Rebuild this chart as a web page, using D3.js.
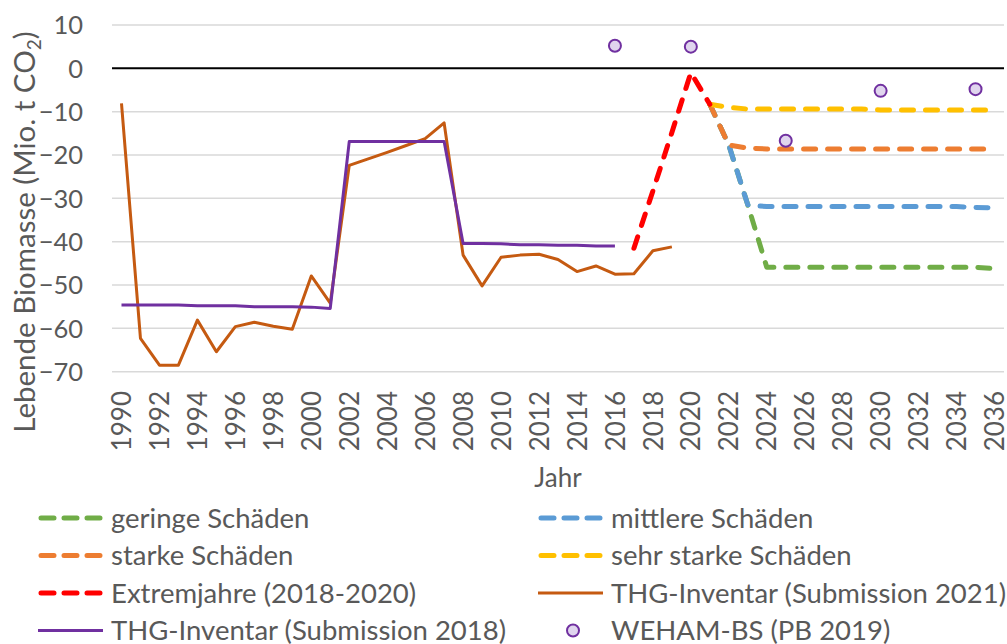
<!DOCTYPE html>
<html>
<head>
<meta charset="utf-8">
<script src="https://d3js.org/d3.v7.min.js"></script>
<style>
  body { margin: 0; background: #fff; }
  text { font-family: Lato, "Open Sans", sans-serif; fill: #595959; }
</style>
</head>
<body>
<div id="chart"></div>
<script>
  var w = 1007,
      h = 644;

  // categories
  var years = d3.range(1990, 2037);
  var yTicks = [10, 0, -10, -20, -30, -40, -50, -60, -70];
  var xTicks = d3.range(1990, 2037, 2);

  // THG-Inventar (Submission 2021), 1990-2019
  var thg2021 = [-8.1, -62.3, -68.5, -68.5, -58.1, -65.4, -59.6, -58.6, -59.5, -60.2,
                 -47.9, -54.2, -22.4, -20.9, -19.4, -17.8, -16.2, -12.6, -43.1, -50.2,
                 -43.6, -43.1, -42.9, -44.1, -46.9, -45.6, -47.5, -47.4, -42.1, -41.2];
  // THG-Inventar (Submission 2018), 1990-2016
  var thg2018 = [-54.6, -54.6, -54.6, -54.6, -54.8, -54.8, -54.8, -55.0, -55.0, -55.0,
                 -55.1, -55.4, -16.9, -16.9, -16.9, -16.9, -16.9, -16.9, -40.4, -40.4,
                 -40.5, -40.7, -40.7, -40.8, -40.8, -41.0, -41.0];
  // Extremjahre, 2017-2021
  var extrem = [-41.5, -28.3, -14.8, -1.0, -8.3];
  // scenarios, 2021-2036
  var geringe    = [-8.3, -17.7, -31.5, -45.9, -45.9, -45.9, -45.9, -45.9, -45.9, -45.9, -45.9, -45.9, -45.9, -45.9, -45.9, -46.2];
  var mittlere   = [-8.3, -17.7, -31.5, -31.9, -31.9, -31.9, -31.9, -31.9, -31.9, -31.9, -31.9, -31.9, -31.9, -31.9, -32.1, -32.2];
  var starke     = [-8.3, -17.7, -18.4, -18.6, -18.6, -18.6, -18.6, -18.6, -18.6, -18.6, -18.6, -18.6, -18.6, -18.6, -18.6, -18.6];
  var sehrStarke = [-8.3, -9.0, -9.4, -9.4, -9.4, -9.4, -9.4, -9.4, -9.4, -9.6, -9.6, -9.6, -9.6, -9.6, -9.6, -9.6];
  // WEHAM-BS (PB 2019)
  var wehamYears = [2016, 2020, 2025, 2030, 2035];
  var weham = [5.2, 5.0, -16.7, -5.2, -4.8];

  function toPoints(start, vals) {
    return vals.map(function(v, i) { return {year: start + i, value: v}; });
  }

  var series = [
    {name: "geringe Schäden", color: "#70ad47", dash: true, data: toPoints(2021, geringe)},
    {name: "mittlere Schäden", color: "#5b9bd5", dash: true, data: toPoints(2021, mittlere)},
    {name: "starke Schäden", color: "#ed7d31", dash: true, data: toPoints(2021, starke)},
    {name: "sehr starke Schäden", color: "#ffc000", dash: true, data: toPoints(2021, sehrStarke)},
    {name: "Extremjahre (2018-2020)", color: "#ff0000", dash: true, data: toPoints(2017, extrem)},
    {name: "THG-Inventar (Submission 2021)", color: "#c55a11", dash: false, data: toPoints(1990, thg2021)},
    {name: "THG-Inventar (Submission 2018)", color: "#7030a0", dash: false, data: toPoints(1990, thg2018)}
  ];

  var svg = d3.select("#chart").append("svg")
      .attr("width", w)
      .attr("height", h);

  var x = d3.scalePoint().domain(years).range([112, 1004]).padding(0.5);
  var y = d3.scaleLinear().domain([-70, 10]).range([371.7, 25]);

  // gridlines
  svg.append("g").selectAll("line").data(yTicks)
    .enter().append("line")
    .attr("x1", 112).attr("x2", 1004)
    .attr("y1", function(d) { return y(d); })
    .attr("y2", function(d) { return y(d); })
    .attr("stroke", function(d) { return d === 0 ? "#000" : "#d9d9d9"; })
    .attr("stroke-width", function(d) { return d === 0 ? 2 : 1.5; });

  // y axis
  var yAxis = svg.append("g")
      .attr("transform", "translate(83,0)")
      .call(d3.axisLeft(y).tickValues(yTicks).tickSize(0).tickPadding(0));
  yAxis.select(".domain").remove();
  yAxis.selectAll("text").style("font-size", "25.5px").attr("fill", "#595959").attr("dy", "0.35em");

  // x axis
  var xAxis = svg.append("g")
      .attr("transform", "translate(0,391)")
      .call(d3.axisBottom(x).tickValues(xTicks).tickSize(0).tickPadding(0));
  xAxis.select(".domain").remove();
  xAxis.selectAll("text")
    .style("font-size", "26px")
    .attr("fill", "#595959")
    .attr("text-anchor", "end")
    .attr("transform", "rotate(-90)")
    .attr("x", 0)
    .attr("y", 0)
    .attr("dy", "0.35em");

  // axis titles
  svg.append("text")
    .attr("x", 558).attr("y", 487)
    .attr("text-anchor", "middle")
    .style("font-size", "26px")
    .text("Jahr");

  var yTitle = svg.append("text")
    .attr("transform", "translate(35,232) rotate(-90)")
    .attr("text-anchor", "middle")
    .style("font-size", "29.5px");
  yTitle.append("tspan").text("Lebende Biomasse (Mio. t CO");
  yTitle.append("tspan").attr("dy", 6).style("font-size", "19px").text("2");
  yTitle.append("tspan").attr("dy", -6).text(")");

  // lines
  var line = d3.line()
    .x(function(d) { return x(d.year); })
    .y(function(d) { return y(d.value); });

  svg.append("g").selectAll("path").data(series)
    .enter().append("path")
    .attr("d", function(d) { return line(d.data); })
    .attr("fill", "none")
    .attr("stroke", function(d) { return d.color; })
    .attr("stroke-width", function(d) { return d.dash ? 5 : 3; })
    .attr("stroke-dasharray", function(d) { return d.dash ? "12,12" : null; })
    .attr("stroke-linecap", function(d) { return d.dash ? "round" : "butt"; })
    .attr("stroke-linejoin", "round");

  // WEHAM points
  svg.append("g").selectAll("circle").data(wehamYears)
    .enter().append("circle")
    .attr("cx", function(d) { return x(d); })
    .attr("cy", function(d, i) { return y(weham[i]); })
    .attr("r", 6)
    .attr("fill", "#e0d5ee")
    .attr("stroke", "#7030a0")
    .attr("stroke-width", 2);

  // legend
  var legendItems = [series[0], series[1], series[2], series[3], series[4], series[5], series[6],
                     {name: "WEHAM-BS (PB 2019)", color: "#7030a0", marker: true}];
  var lg = svg.append("g").selectAll("g").data(legendItems)
    .enter().append("g")
    .attr("transform", function(d, i) {
      return "translate(" + (i % 2 === 0 ? 38 : 538) + "," + (518 + Math.floor(i / 2) * 37.5) + ")";
    });

  lg.filter(function(d) { return !d.marker; }).append("line")
    .attr("x1", function(d) { return d.dash ? 3 : 0; })
    .attr("x2", function(d) { return d.dash ? 62 : 65; })
    .attr("stroke", function(d) { return d.color; })
    .attr("stroke-width", function(d) { return d.dash ? 5 : 3; })
    .attr("stroke-dasharray", function(d) { return d.dash ? "13,10" : null; })
    .attr("stroke-linecap", function(d) { return d.dash ? "round" : "butt"; });

  lg.filter(function(d) { return d.marker; }).append("circle")
    .attr("cx", 35).attr("r", 6)
    .attr("fill", "#e0d5ee")
    .attr("stroke", "#7030a0")
    .attr("stroke-width", 2);

  lg.append("text")
    .attr("x", 73)
    .attr("dy", "0.35em")
    .style("font-size", "27.5px")
    .text(function(d) { return d.name; });
</script>
</body>
</html>
